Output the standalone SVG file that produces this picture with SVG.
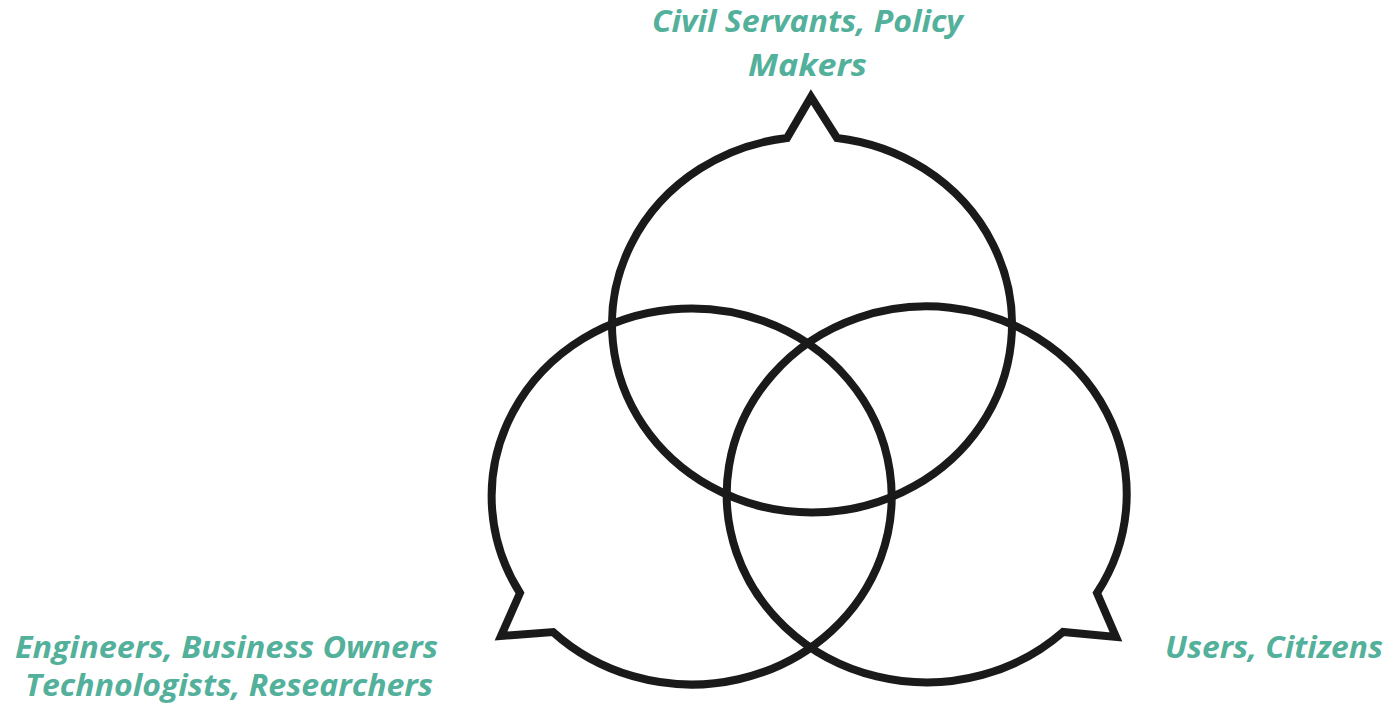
<svg xmlns="http://www.w3.org/2000/svg" width="1391" height="713" viewBox="0 0 1391 713">
<style>
.bubble{fill:none;stroke:#1a1a1a;stroke-width:8;stroke-linejoin:miter;stroke-miterlimit:10}
.lbl{font-family:"Open Sans","Liberation Sans",sans-serif;font-weight:bold;font-style:italic;font-size:31px;fill:#52b09b}
</style>
<rect width="1391" height="713" fill="#ffffff"/>
<g id="bubble-top">
<path class="bubble" d="M 787 138 L 811 97 L 837 138 A 200 188 0 1 1 787 138 Z"/>
</g>
<g id="bubble-left">
<path class="bubble" d="M 520 593 L 501 636 L 553 632 A 200 188 0 1 0 520 593 Z"/>
</g>
<g id="bubble-right">
<path class="bubble" d="M 1097 593 L 1116 637 L 1063 632 A 200 188 0 1 1 1097 593 Z"/>
</g>
<g id="label-top">
<text class="lbl" x="652" y="32" textLength="311" lengthAdjust="spacingAndGlyphs">Civil Servants, Policy</text>
<text class="lbl" x="748" y="76" textLength="119" lengthAdjust="spacingAndGlyphs">Makers</text>
</g>
<g id="label-left">
<text class="lbl" x="15" y="658" textLength="423" lengthAdjust="spacingAndGlyphs">Engineers, Business Owners</text>
<text class="lbl" x="25" y="696" textLength="408" lengthAdjust="spacingAndGlyphs">Technologists, Researchers</text>
</g>
<g id="label-right">
<text class="lbl" x="1165" y="658" textLength="218" lengthAdjust="spacingAndGlyphs">Users, Citizens</text>
</g>
<g id="connectors"></g>
</svg>
